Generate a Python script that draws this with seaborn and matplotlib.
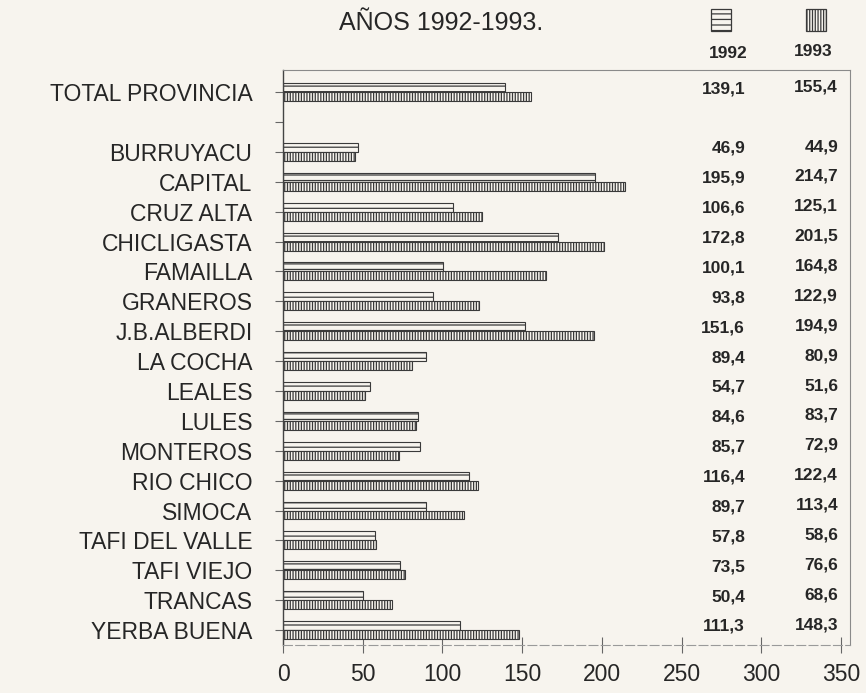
import matplotlib
matplotlib.use("Agg")
import matplotlib.pyplot as plt
import seaborn as sns
import pandas as pd
from matplotlib.patches import Rectangle
from matplotlib.transforms import blended_transform_factory

# ---------------- data ----------------
categories = ["TOTAL PROVINCIA", "BURRUYACU", "CAPITAL", "CRUZ ALTA", "CHICLIGASTA",
              "FAMAILLA", "GRANEROS", "J.B.ALBERDI", "LA COCHA", "LEALES", "LULES",
              "MONTEROS", "RIO CHICO", "SIMOCA", "TAFI DEL VALLE", "TAFI VIEJO",
              "TRANCAS", "YERBA BUENA"]
values_1992 = [139.1, 46.9, 195.9, 106.6, 172.8, 100.1, 93.8, 151.6, 89.4, 54.7,
               84.6, 85.7, 116.4, 89.7, 57.8, 73.5, 50.4, 111.3]
values_1993 = [155.4, 44.9, 214.7, 125.1, 201.5, 164.8, 122.9, 194.9, 80.9, 51.6,
               83.7, 72.9, 122.4, 113.4, 58.6, 76.6, 68.6, 148.3]
years = ["1992", "1993"]
x_ticks = [0, 50, 100, 150, 200, 250, 300, 350]
title = "AÑOS 1992-1993."

# ---------------- style ----------------
sns.set_theme(style="white")
plt.rcParams["font.family"] = ["Liberation Sans", "DejaVu Sans"]
BG = "#f7f4ee"
INK = "#262626"
EDGE = "#3a3a3a"
plt.rcParams["hatch.linewidth"] = 0.9
plt.rcParams["hatch.color"] = EDGE

n = len(categories)
df = pd.DataFrame({
    "municipio": categories * 2,
    "anio": [years[0]] * n + [years[1]] * n,
    "valor": values_1992 + values_1993,
})
order = [categories[0], " "] + categories[1:]

fig = plt.figure(figsize=(8.66, 6.93), dpi=100, facecolor=BG)
ax = fig.add_axes([283 / 866, 1 - 645 / 693, 567 / 866, (645 - 70) / 693])
ax.set_facecolor(BG)

sns.barplot(data=df, x="valor", y="municipio", hue="anio", order=order,
            hue_order=years, orient="h", width=0.6, ax=ax, legend=False,
            palette=[BG, BG], saturation=1, errorbar=None,
            edgecolor=EDGE, linewidth=0.8)

hatches = ["---", "||||||"]
for cont, h in zip(ax.containers, hatches):
    for p in cont.patches:
        p.set_hatch(h)
        p.set_edgecolor(EDGE)

ax.set_xlim(0, 355.7)
ax.set_xticks(x_ticks)
ax.set_ylim(18.5, -0.74)
ax.set_xlabel("")
ax.set_ylabel("")

ax.tick_params(axis="x", direction="inout", length=12, width=0.8, color="#666666",
               labelsize=16.5, pad=7, labelcolor=INK, bottom=True)
ax.tick_params(axis="y", direction="out", length=6, width=0.8, color="#666666",
               labelsize=16.5, pad=16, labelcolor=INK, left=True)

for s in ["top", "right"]:
    ax.spines[s].set_color("#8a8a8a")
    ax.spines[s].set_linewidth(0.8)
ax.spines["left"].set_color("#444444")
ax.spines["left"].set_linewidth(1.0)
ax.spines["bottom"].set_color("#9a9a9a")
ax.spines["bottom"].set_linewidth(0.8)
ax.spines["bottom"].set_linestyle((0, (8, 3)))

# value table on the right
trans = blended_transform_factory(ax.transAxes, ax.transData)
def fmt(v):
    return f"{v:.1f}".replace(".", ",")
for cat, v92, v93 in zip(categories, values_1992, values_1993):
    ypos = order.index(cat)
    ax.text(0.815, ypos - 0.12, fmt(v92), transform=trans, ha="right", va="center",
            fontsize=12.5, fontweight="bold", color=INK)
    ax.text(0.979, ypos - 0.18, fmt(v93), transform=trans, ha="right", va="center",
            fontsize=12.5, fontweight="bold", color=INK)

# title
fig.text(441 / 866, 1 - 23 / 693, title, ha="center", va="center",
         fontsize=18, color=INK)

# legend
for (x0, x1), h, lab, lx, ly in [((711, 731), hatches[0], years[0], 728, 53),
                                 ((806, 826), hatches[1], years[1], 813, 51)]:
    fig.add_artist(Rectangle((x0 / 866, 1 - 31 / 693), (x1 - x0) / 866, 22 / 693,
                             transform=fig.transFigure, facecolor=BG,
                             edgecolor=EDGE, hatch=h, linewidth=0.9))
    fig.text(lx / 866, 1 - ly / 693, lab, ha="center", va="center",
             fontsize=12.5, fontweight="bold", color=INK)

fig.savefig("out.png", dpi=100, facecolor=BG)
